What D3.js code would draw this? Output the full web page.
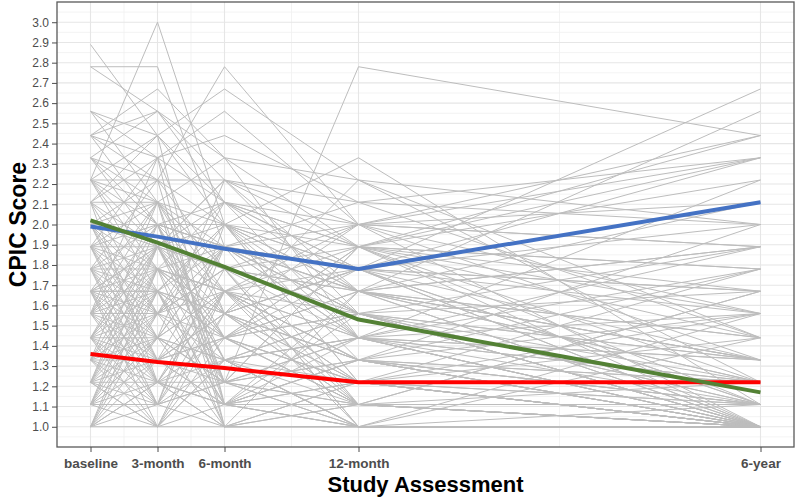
<!DOCTYPE html>
<html>
<head>
<meta charset="utf-8">
<script src="https://cdn.jsdelivr.net/npm/d3@7"></script>
<style>
  html, body { margin: 0; padding: 0; background: #fff; }
  svg { display: block; }
</style>
</head>
<body>
<svg id="chart" width="800" height="504"></svg>
<script>
// ---------- data ----------
const timeLabels = ["baseline", "3-month", "6-month", "12-month", "6-year"];
const timeValues = [0, 3, 6, 12, 30];
const yTickValues = [1.0,1.1,1.2,1.3,1.4,1.5,1.6,1.7,1.8,1.9,2.0,2.1,2.2,2.3,2.4,2.5,2.6,2.7,2.8,2.9,3.0];

// individual trajectories: [baseline, 3-month, 6-month, 12-month, 6-year]
const subjects = [
  [2.89, 2.44, 2.00, 1.67, 1.33],
  [2.78, 2.78, 1.89, 1.56, null],
  [2.78, 2.56, 2.11, 1.78, 1.56],
  [2.22, 3.00, 2.00, 1.44, 1.22],
  [2.44, 2.67, 2.33, 1.89, 1.78],
  [2.22, 2.44, 2.67, 2.22, 1.44],
  [2.33, 2.22, 2.78, 2.00, 1.89],
  [1.89, 2.00, 1.22, 2.78, 2.44],
  [2.00, 2.11, 2.33, 2.22, 2.00],
  [1.78, 1.89, 2.00, 2.33, 1.11],
  [2.56, 2.33, 2.44, 2.11, 2.33],
  [1.67, 1.78, 1.56, 1.78, 2.67],
  [2.44, 2.00, 1.89, 1.67, 2.56],
  [2.22, 2.22, 2.22, 2.00, 2.44],
  [2.44, 2.56, 2.22, 1.89, 2.33],
  [2.33, 2.11, 1.78, 1.56, 1.00],
  [2.11, 2.33, 2.11, 1.67, 1.00],
  [2.00, 1.78, 1.67, 1.44, 1.00],
  [1.89, 1.67, 1.56, 1.33, 1.00],
  [1.78, 1.56, 1.44, 1.22, 1.00],
  [1.67, 1.44, 1.33, 1.11, 1.00],
  [1.56, 1.33, 1.22, 1.00, 1.00],
  [1.44, 1.22, 1.11, 1.00, 1.00],
  [1.33, 1.11, 1.00, 1.00, 1.00],
  [1.22, 1.00, 1.00, 1.00, 1.00],
  [1.11, 1.22, 1.00, 1.11, 1.00],
  [1.00, 1.00, 1.11, 1.00, 1.00],
  [1.00, 1.11, 1.22, 1.11, 1.11],
  [1.11, 1.33, 1.44, 1.22, 1.11],
  [1.22, 1.44, 1.33, 1.22, 1.22],
  [1.33, 1.56, 1.67, 1.33, 1.22],
  [1.44, 1.67, 1.44, 1.56, 1.33],
  [1.56, 1.78, 1.89, 1.67, 1.44],
  [1.67, 1.89, 1.78, 1.44, 1.56],
  [1.78, 2.00, 1.89, 1.78, 1.67],
  [1.89, 2.11, 2.00, 1.89, 1.78],
  [2.00, 2.22, 1.78, 1.67, 1.89],
  [2.11, 1.89, 2.11, 2.00, 2.11],
  [2.22, 2.00, 2.11, 1.89, 2.22],
  [1.00, 1.22, 1.11, 1.33, 2.00],
  [1.11, 1.00, 1.33, 1.44, 2.22],
  [1.22, 1.33, 1.56, 1.78, 2.33],
  [1.33, 1.22, 1.44, 1.67, 2.11],
  [1.44, 1.56, 1.78, 1.89, 2.44],
  [1.56, 1.44, 1.67, 2.00, 2.33],
  [1.67, 1.56, 1.89, 2.11, 2.00],
  [2.00, 1.67, 1.56, 1.22, 1.00],
  [2.11, 1.78, 1.44, 1.11, 1.00],
  [2.22, 1.89, 1.33, 1.00, 1.00],
  [2.33, 2.00, 1.67, 1.33, 1.11],
  [1.89, 1.44, 1.22, 1.11, 1.00],
  [1.78, 1.33, 1.11, 1.22, 1.00],
  [1.67, 1.22, 1.00, 1.00, 1.11],
  [1.56, 1.11, 1.22, 1.33, 1.22],
  [1.44, 1.00, 1.33, 1.44, 1.33],
  [1.33, 1.44, 1.00, 1.22, 1.44],
  [1.22, 1.56, 1.11, 1.00, 1.56],
  [1.11, 1.67, 1.44, 1.11, 1.67],
  [1.00, 1.33, 1.56, 1.22, 1.78],
  [1.00, 1.44, 1.67, 1.56, 1.89],
  [1.11, 1.56, 1.78, 1.67, 1.22],
  [1.22, 1.67, 2.00, 1.78, 1.11],
  [1.33, 1.78, 2.11, 1.89, 1.00],
  [1.44, 1.89, 1.56, 2.00, 1.00],
  [1.56, 2.00, 1.33, 1.56, 1.00],
  [1.67, 2.11, 1.22, 1.44, 1.00],
  [1.78, 2.22, 1.11, 1.33, 1.11],
  [1.89, 2.33, 1.00, 1.11, 1.00],
  [2.00, 1.44, 2.22, 1.67, 1.22],
  [2.11, 1.56, 2.00, 1.56, 1.00],
  [2.22, 1.67, 1.89, 1.78, 1.33],
  [2.33, 1.89, 2.22, 2.11, 1.44],
  [2.44, 2.22, 2.00, 1.22, 1.00],
  [2.56, 2.11, 1.67, 1.11, 1.00],
  [1.22, 1.11, 1.89, 1.44, 1.00],
  [1.33, 1.00, 1.67, 1.89, 1.22],
  [1.44, 1.11, 2.00, 1.33, 1.56],
  [1.56, 1.22, 1.11, 1.67, 1.89],
  [1.67, 1.00, 1.44, 1.11, 1.67],
  [1.78, 1.11, 1.33, 1.00, 1.44],
  [1.89, 1.22, 1.78, 2.00, 1.33],
  [2.00, 1.33, 1.44, 1.89, 1.56],
  [2.11, 1.22, 1.67, 1.33, 1.78],
  [1.00, 1.78, 1.22, 1.00, 1.00],
  [1.11, 1.89, 1.33, 1.56, 1.00],
  [1.22, 2.00, 1.44, 1.78, 2.00],
  [1.56, 2.33, 1.56, 2.22, 1.22],
  [2.56, 2.44, 2.11, 1.78, 1.67],
  [2.44, 2.33, 2.56, 2.00, 1.89],
  [2.33, 2.56, 2.33, 1.44, 1.11],
  [1.67, 1.33, 1.11, 1.22, 1.11],
  [1.44, 1.78, 1.00, 1.00, 1.00],
  [1.33, 1.89, 1.22, 1.33, 1.00],
  [2.22, 2.11, 1.00, 1.22, 1.00],
  [2.11, 2.44, 1.11, 1.11, 1.11],
  [1.00, 1.22, 1.33, 1.00, null],
  [1.11, 1.44, 1.22, null, null],
  [1.22, 1.00, 1.56, 1.11, null],
  [1.33, 1.67, 1.11, 1.44, null],
  [1.44, 1.33, 1.67, 1.00, 1.00],
  [1.56, 1.89, 1.44, 1.22, 1.00],
  [1.67, 1.11, 1.56, 1.33, 1.00],
  [1.78, 1.44, 1.89, 1.56, 1.11],
  [1.89, 1.56, 1.33, 1.44, 1.22],
  [2.00, 1.89, 1.44, 1.67, 1.00],
  [1.00, 1.56, 1.89, 1.11, 1.00],
  [1.11, 1.78, 1.67, 1.33, 1.00],
  [1.22, 1.89, 1.78, 1.00, 1.00],
  [1.33, 1.33, 1.89, 1.56, 1.67],
  [1.44, 1.44, 1.22, 1.89, 1.44],
  [1.56, 1.56, 2.11, 1.44, 1.78],
  [1.67, 1.67, 1.00, 1.67, 1.33],
  [1.78, 1.78, 1.56, 1.11, 1.22],
  [1.89, 1.89, 1.67, 1.22, 1.56],
  [2.00, 2.00, 1.11, 1.33, 1.11],
  [1.11, 1.11, 1.67, 1.78, 1.11],
  [1.22, 1.78, 1.44, 1.56, 1.33],
  [1.33, 2.11, 1.78, 1.11, 1.00],
  [1.44, 2.00, 1.89, 1.44, 1.00],
  [1.56, 1.67, 1.22, 1.89, 1.67],
  [1.67, 1.67, 2.00, 1.22, 1.00],
  [1.78, 1.22, 1.22, 1.44, 1.89],
  [1.89, 1.33, 1.56, 1.78, 1.00],
  [2.00, 1.56, 1.78, 1.00, null],
  [2.11, 2.11, 1.89, 1.67, 1.44],
  [1.00, 1.67, 2.00, 1.67, 1.33],
  [1.11, 1.44, 1.89, 2.00, 1.56],
  [1.22, 1.22, 1.67, 1.22, 1.00],
  [1.44, 1.89, 2.22, 1.56, 1.11],
  [1.56, 2.11, 1.56, 1.33, 1.00],
  [1.78, 1.67, 1.11, 1.56, 1.22],
  [1.89, 1.78, 1.44, 1.89, 1.11],
  [2.22, 1.78, 1.67, 1.44, 1.33],
  [2.00, 2.00, 2.00, 1.78, 1.00],
  [1.67, 1.89, 1.33, 1.00, 1.00]
];

// group summary lines
const blueValues  = [1.99, 1.94, 1.88, 1.78, 2.11];
const greenValues = [2.02, 1.91, 1.79, 1.53, 1.17];
const redValues   = [1.36, 1.32, 1.29, 1.22, 1.22];

// ---------- layout ----------
const svg = d3.select("#chart");
const panel = { left: 57, top: 2, right: 794, bottom: 447 };

const x = d3.scaleLinear().domain([-1.5, 31.5]).range([panel.left, panel.right]);
const y = d3.scaleLinear().domain([0.9, 3.1]).range([panel.bottom, panel.top]);

svg.append("rect")
  .attr("x", panel.left).attr("y", panel.top)
  .attr("width", panel.right - panel.left).attr("height", panel.bottom - panel.top)
  .attr("fill", "#ffffff");

// grid
const grid = svg.append("g");
const yMinor = d3.range(0.95, 3.1, 0.1);
const xMinor = [];
for (let i = 0; i < timeValues.length - 1; i++) xMinor.push((timeValues[i] + timeValues[i + 1]) / 2);

grid.selectAll(".hminor").data(yMinor).join("line")
  .attr("x1", panel.left).attr("x2", panel.right)
  .attr("y1", d => y(d)).attr("y2", d => y(d))
  .attr("stroke", "#f0f0f0").attr("stroke-width", 0.8);
grid.selectAll(".vminor").data(xMinor).join("line")
  .attr("y1", panel.top).attr("y2", panel.bottom)
  .attr("x1", d => x(d)).attr("x2", d => x(d))
  .attr("stroke", "#f0f0f0").attr("stroke-width", 0.8);
grid.selectAll(".hmajor").data(yTickValues).join("line")
  .attr("x1", panel.left).attr("x2", panel.right)
  .attr("y1", d => y(d)).attr("y2", d => y(d))
  .attr("stroke", "#e6e6e6").attr("stroke-width", 1.1);
grid.selectAll(".vmajor").data(timeValues).join("line")
  .attr("y1", panel.top).attr("y2", panel.bottom)
  .attr("x1", d => x(d)).attr("x2", d => x(d))
  .attr("stroke", "#e6e6e6").attr("stroke-width", 1.1);

// spaghetti lines
const line = d3.line()
  .x(d => x(d.t))
  .y(d => y(d.v));

const toPts = arr => arr.map((v, i) => ({ t: timeValues[i], v: v })).filter(d => d.v !== null);

svg.append("clipPath").attr("id", "clip").append("rect")
  .attr("x", panel.left).attr("y", panel.top)
  .attr("width", panel.right - panel.left).attr("height", panel.bottom - panel.top);

const plot = svg.append("g").attr("clip-path", "url(#clip)");

plot.selectAll(".subj").data(subjects).join("path")
  .attr("d", d => line(toPts(d)))
  .attr("fill", "none")
  .attr("stroke", "#bdbdbd")
  .attr("stroke-width", 1);

const groups = [
  { vals: blueValues, color: "#4472c4" },
  { vals: redValues, color: "#ff0000" },
  { vals: greenValues, color: "#538135" }
];
plot.selectAll(".grp").data(groups).join("path")
  .attr("d", d => line(toPts(d.vals)))
  .attr("fill", "none")
  .attr("stroke", d => d.color)
  .attr("stroke-width", 4)
  .attr("stroke-linejoin", "round");

// panel border
svg.append("rect")
  .attr("x", panel.left).attr("y", panel.top)
  .attr("width", panel.right - panel.left).attr("height", panel.bottom - panel.top)
  .attr("fill", "none").attr("stroke", "#595959").attr("stroke-width", 1.3);

// axes
const yAxis = svg.append("g")
  .attr("transform", `translate(${panel.left},0)`)
  .call(d3.axisLeft(y).tickValues(yTickValues).tickFormat(d3.format(".1f")).tickSize(5).tickPadding(3));
yAxis.select(".domain").remove();
yAxis.selectAll(".tick line").attr("stroke", "#4d4d4d");
yAxis.selectAll(".tick text")
  .attr("fill", "#4d4d4d")
  .style("font-family", "'Liberation Sans', Arial, sans-serif")
  .style("font-size", "12px");

const xAxis = svg.append("g")
  .attr("transform", `translate(0,${panel.bottom})`)
  .call(d3.axisBottom(x).tickValues(timeValues).tickFormat((d, i) => timeLabels[i]).tickSize(5).tickPadding(6));
xAxis.select(".domain").remove();
xAxis.selectAll(".tick line").attr("stroke", "#4d4d4d");
xAxis.selectAll(".tick text")
  .attr("fill", "#4d4d4d")
  .style("font-family", "'Liberation Sans', Arial, sans-serif")
  .style("font-size", "13.5px")
  .style("font-weight", "bold");

// titles
svg.append("text")
  .attr("x", (panel.left + panel.right) / 2)
  .attr("y", 492)
  .attr("text-anchor", "middle")
  .style("font-family", "'Liberation Sans', Arial, sans-serif")
  .style("font-size", "22px")
  .style("font-weight", "bold")
  .attr("fill", "#000")
  .text("Study Assessment");

svg.append("text")
  .attr("transform", `translate(26,${(panel.top + panel.bottom) / 2}) rotate(-90)`)
  .attr("text-anchor", "middle")
  .style("font-family", "'Liberation Sans', Arial, sans-serif")
  .style("font-size", "23px")
  .style("font-weight", "bold")
  .attr("fill", "#000")
  .text("CPIC Score");
</script>
</body>
</html>
